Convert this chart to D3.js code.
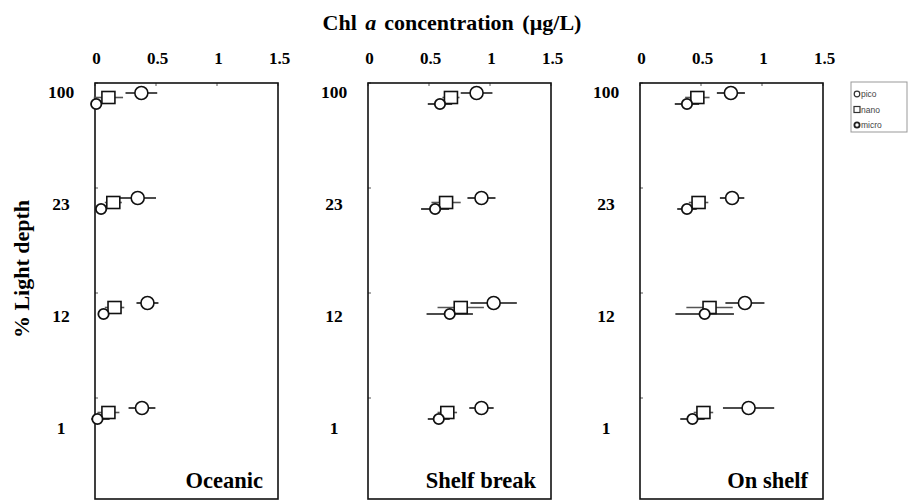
<!DOCTYPE html>
<html><head><meta charset="utf-8">
<script src="https://cdn.jsdelivr.net/npm/d3@7"></script>
<style>body{margin:0;background:#fff}svg{display:block}</style>
</head><body>
<script>
// ---- data ----
const depths = ["100", "23", "12", "1"];
const panels = ["Oceanic", "Shelf break", "On shelf"];
const xTicks = [0, 0.5, 1, 1.5];
const xTickLabels = ["0", "0.5", "1", "1.5"];
const series = ["pico", "nano", "micro"];
// means per panel (rows: depths 100, 23, 12, 1)
const picoMean  = [[0.38, 0.35, 0.43, 0.385], [0.89, 0.93, 1.03, 0.93], [0.745, 0.755, 0.86, 0.89]];
const picoErr   = [[0.13, 0.15, 0.09, 0.11],  [0.13, 0.115, 0.19, 0.10], [0.115, 0.10, 0.16, 0.21]];
const nanoMean  = [[0.11, 0.15, 0.16, 0.11],  [0.68, 0.64, 0.76, 0.65],  [0.47, 0.48, 0.57, 0.52]];
const nanoErr   = [[0.12, 0.07, 0.08, 0.09],  [0.07, 0.12, 0.19, 0.08],  [0.10, 0.08, 0.19, 0.08]];
const microMean = [[0.01, 0.05, 0.07, 0.02],  [0.59, 0.55, 0.67, 0.58],  [0.385, 0.385, 0.53, 0.43]];
const microErr  = [[0.04, 0.03, 0.03, 0.10],  [0.10, 0.115, 0.19, 0.09], [0.10, 0.08, 0.24, 0.10]];

// ---- layout ----
const W = 908, H = 502;
const panelLeft = [95, 368, 640];
const panelW = 183;
const boxTop = 83, boxBottom = 499;
const svg = d3.select("body").append("svg").attr("width", W).attr("height", H);
const serif = "'Liberation Serif','Times New Roman',serif";

const yRow = d3.scalePoint().domain(depths).range([93, 408]);
const yTick = d3.scalePoint().domain(depths).range([83, 398]);
const yLabel = d3.scalePoint().domain(depths).range([92, 428]);
const offset = {pico: 0, nano: 4.5, micro: 11};

svg.append("text").attr("x", 452).attr("y", 30).attr("text-anchor", "middle")
  .attr("font-family", serif).attr("font-weight", "bold").attr("font-size", 22)
  .attr("word-spacing", 3)
  .call(t => {
    t.append("tspan").text("Chl ");
    t.append("tspan").attr("font-style", "italic").text("a");
    t.append("tspan").attr("dx", 8).text("concentration (\u00b5g/L)");
  });

svg.append("text").attr("transform", "translate(29,269) rotate(-90)").attr("text-anchor", "middle")
  .attr("font-family", serif).attr("font-weight", "bold").attr("font-size", 22).text("% Light depth");

const dataSets = {pico: [picoMean, picoErr], nano: [nanoMean, nanoErr], micro: [microMean, microErr]};

panels.forEach((name, p) => {
  const x = d3.scaleLinear().domain([0, 1.5]).range([panelLeft[p], panelLeft[p] + panelW]);
  const g = svg.append("g");
  // x tick labels
  const xa = g.append("g").attr("transform", `translate(1,64)`)
    .call(d3.axisTop(x).tickValues(xTicks).tickFormat((d, i) => xTickLabels[i]).tickSize(0).tickPadding(0));
  xa.select(".domain").remove();
  xa.selectAll("text").attr("font-family", serif).attr("font-weight", "bold").attr("font-size", 17).attr("fill", "#000");
  // inner ticks on top edge
  g.selectAll(".tt").data(xTicks).enter().append("line")
    .attr("x1", d => x(d)).attr("x2", d => x(d)).attr("y1", boxTop).attr("y2", boxTop + 3)
    .attr("stroke", "#555").attr("stroke-width", 1);
  // row labels
  const ya = g.append("g").attr("transform", `translate(${panelLeft[p] - 24},0)`)
    .call(d3.axisLeft(yLabel).tickSize(0).tickPadding(0));
  ya.select(".domain").remove();
  ya.selectAll("text").attr("font-family", serif).attr("font-weight", "bold").attr("font-size", 17.5)
    .attr("fill", "#000").attr("text-anchor", "middle").attr("dx", -10);
  // left inner ticks
  g.selectAll(".yt").data(depths).enter().append("line")
    .attr("x1", panelLeft[p]).attr("x2", panelLeft[p] + 3).attr("y1", d => yTick(d)).attr("y2", d => yTick(d))
    .attr("stroke", "#555").attr("stroke-width", 1);
  // box
  g.append("rect").attr("x", panelLeft[p]).attr("y", boxTop).attr("width", panelW).attr("height", boxBottom - boxTop)
    .attr("fill", "none").attr("stroke", "#111").attr("stroke-width", 1.6);
  // error bars
  series.forEach(s => {
    const [m, e] = dataSets[s];
    g.selectAll(".eb-" + s).data(depths).enter().append("line")
      .attr("x1", (d, i) => x(Math.max(-0.03, m[p][i] - e[p][i])))
      .attr("x2", (d, i) => x(m[p][i] + e[p][i]))
      .attr("y1", d => yRow(d) + offset[s]).attr("y2", d => yRow(d) + offset[s])
      .attr("stroke", s === "nano" ? "#555" : "#111").attr("stroke-width", 1.6);
  });
  // markers
  const [nm] = dataSets.nano;
  g.selectAll(".nano").data(depths).enter().append("rect")
    .attr("x", (d, i) => x(nm[p][i]) - 6.5).attr("y", d => yRow(d) + offset.nano - 6)
    .attr("width", 13).attr("height", 12).attr("fill", "#fff").attr("stroke", "#111").attr("stroke-width", 1.6);
  const [mm] = dataSets.micro;
  g.selectAll(".micro").data(depths).enter().append("path")
    .attr("d", d3.symbol(d3.symbolCircle, 85)())
    .attr("transform", (d, i) => `translate(${x(mm[p][i])},${yRow(d) + offset.micro})`)
    .attr("fill", "#fff").attr("stroke", "#111").attr("stroke-width", 1.8);
  const [pm] = dataSets.pico;
  g.selectAll(".pico").data(depths).enter().append("circle")
    .attr("cx", (d, i) => x(pm[p][i])).attr("cy", d => yRow(d) + offset.pico).attr("r", 6.5)
    .attr("fill", "#fff").attr("stroke", "#111").attr("stroke-width", 1.6);
  // panel name
  g.append("text").attr("x", panelLeft[p] + panelW - 15).attr("y", 488).attr("text-anchor", "end")
    .attr("font-family", serif).attr("font-weight", "bold").attr("font-size", 22.5).text(name);
});

// legend
const lg = svg.append("g");
lg.append("rect").attr("x", 851).attr("y", 82).attr("width", 56).attr("height", 50)
  .attr("fill", "#fff").attr("stroke", "#999").attr("stroke-width", 1);
series.forEach((s, i) => {
  const cy = 94 + i * 15.5;
  if (s === "pico") lg.append("circle").attr("cx", 857).attr("cy", cy).attr("r", 2.8).attr("fill", "#fff").attr("stroke", "#333").attr("stroke-width", 1.2);
  else if (s === "nano") lg.append("rect").attr("x", 854).attr("y", cy - 3).attr("width", 6).attr("height", 6).attr("fill", "#fff").attr("stroke", "#333").attr("stroke-width", 1.2);
  else lg.append("circle").attr("cx", 857).attr("cy", cy).attr("r", 2.6).attr("fill", "#fff").attr("stroke", "#222").attr("stroke-width", 1.8);
  lg.append("text").attr("x", 861).attr("y", cy + 3).attr("font-family", "'Liberation Sans',Arial,sans-serif")
    .attr("font-size", 8.5).attr("fill", "#444").text(s);
});
</script>
</body></html>
